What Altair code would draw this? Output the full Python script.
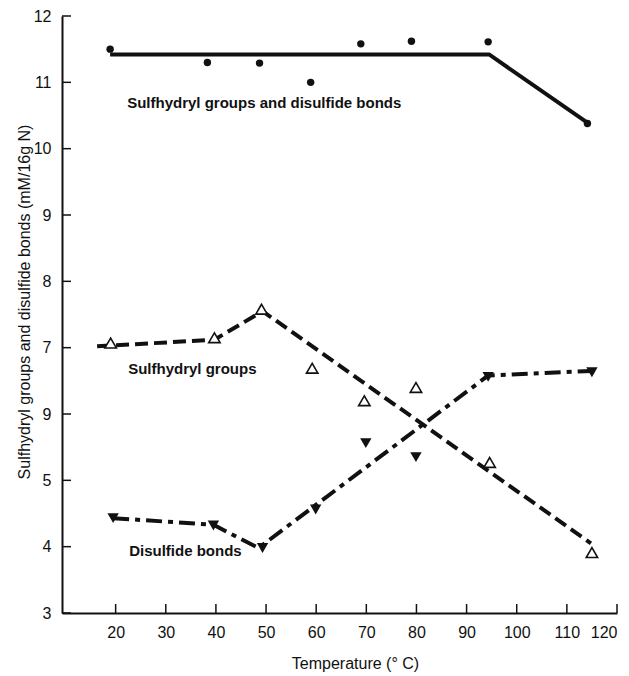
import altair as alt
import pandas as pd

# ---- data ----
dot_temp = [18.9, 38.3, 48.7, 58.9, 68.9, 79.0, 94.3, 114.1]
dot_total = [11.50, 11.30, 11.29, 11.00, 11.58, 11.62, 11.61, 10.38]

sh_temp = [19.0, 39.7, 49.1, 59.2, 69.6, 79.9, 94.6, 115.0]
sh_groups = [7.07, 7.15, 7.58, 6.69, 6.20, 6.40, 5.27, 3.91]

ss_temp = [19.5, 39.5, 49.3, 59.9, 69.9, 79.9, 94.3, 115.0]
ss_bonds = [4.43, 4.32, 3.98, 4.56, 5.56, 5.35, 6.56, 6.63]

fit_total_temp = [18.9, 94.5, 114.3]
fit_total_val = [11.42, 11.42, 10.38]
fit_sh_temp = [16.3, 39.7, 49.3, 114.8]
fit_sh_val = [7.02, 7.12, 7.55, 4.05]
fit_ss_temp = [19.5, 39.5, 48.5, 94.3, 114.8]
fit_ss_val = [4.43, 4.33, 3.98, 6.58, 6.65]

label_text = ["Sulfhydryl groups and disulfide bonds", "Sulfhydryl groups", "Disulfide bonds"]
label_temp = [22.3, 22.5, 22.7]
label_val = [10.61, 6.60, 3.86]

x_ticks = [20, 30, 40, 50, 60, 70, 80, 90, 100, 110, 120]
y_ticks = [3, 4, 5, 6, 7, 8, 9, 10, 11, 12]

W, H = 555, 597
INK = "#111111"
FONT = "Liberation Sans"

xs = alt.Scale(domain=[9.3, 120], nice=False, zero=False)
ys = alt.Scale(domain=[3, 12], nice=False, zero=False)

x_axis = alt.Axis(values=x_ticks, labelFontSize=16, labelPadding=11, ticks=False, tickSize=0,
                  grid=False, domainWidth=2, domainColor=INK, labelColor=INK, labelFont=FONT,
                  title="Temperature (° C)", titleFont=FONT, titleFontSize=16, titleFontWeight="normal",
                  titleColor=INK, titleX=293, titleY=50, titleBaseline="middle", titleAlign="center")
y_axis = alt.Axis(values=y_ticks, labelFontSize=16, labelPadding=11, ticks=False, tickSize=0,
                  grid=False, domainWidth=2, domainColor=INK, labelColor=INK, labelFont=FONT,
                  labelExpr="datum.value == 6 ? '9' : datum.label",
                  title="Sulfhydryl groups and disulfide bonds (mM/16g N)", titleFont=FONT,
                  titleFontSize=16, titleFontWeight="normal", titleColor=INK, titleAngle=270,
                  titleX=-38, titleY=285.5, titleBaseline="middle", titleAlign="center")


def X(field="t"):
    return alt.X(f"{field}:Q", scale=xs, axis=x_axis)


def Y(field="v"):
    return alt.Y(f"{field}:Q", scale=ys, axis=y_axis)


xt = alt.Chart(pd.DataFrame({"t": x_ticks})).mark_rule(color=INK, strokeWidth=1.5).encode(
    x=X(), y=alt.value(H), y2=alt.value(H - 9))
yt = alt.Chart(pd.DataFrame({"v": y_ticks})).mark_rule(color=INK, strokeWidth=1.5).encode(
    y=Y(), x=alt.value(0), x2=alt.value(9))


def line(tx, vals, dash, width):
    df = pd.DataFrame({"t": tx, "v": vals})
    kw = dict(color=INK, strokeWidth=width, strokeCap="butt")
    if dash:
        kw["strokeDash"] = dash
    return alt.Chart(df).mark_line(**kw).encode(x=X(), y=Y())


l_total = line(fit_total_temp, fit_total_val, None, 4)
l_sh = line(fit_sh_temp, fit_sh_val, [13, 6], 4)
l_ss = line(fit_ss_temp, fit_ss_val, [16, 6, 5, 6], 4)

p_total = alt.Chart(pd.DataFrame({"t": dot_temp, "v": dot_total})).mark_point(
    shape="circle", filled=True, color=INK, size=55, opacity=1).encode(x=X(), y=Y())
p_sh = alt.Chart(pd.DataFrame({"t": sh_temp, "v": sh_groups})).mark_point(
    shape="triangle-up", filled=True, fill="white", stroke=INK, strokeWidth=1.6, size=130,
    opacity=1).encode(x=X(), y=Y())
p_ss = alt.Chart(pd.DataFrame({"t": ss_temp, "v": ss_bonds})).mark_point(
    shape="triangle-down", filled=True, color=INK, size=130, opacity=1).encode(x=X(), y=Y())

labels = alt.Chart(pd.DataFrame({"t": label_temp, "v": label_val, "s": label_text})).mark_text(
    align="left", baseline="alphabetic", font=FONT, fontSize=15, fontWeight="bold", color=INK).encode(
    x=X(), y=Y(), text="s:N")

chart = alt.layer(xt, yt, l_total, l_sh, l_ss, p_total, p_sh, p_ss, labels).properties(
    width=W, height=H,
    autosize=alt.AutoSizeParams(type="none"),
    padding={"left": 54, "top": 8, "right": 4, "bottom": 60},
    background="white",
).configure_view(stroke=None)

chart.save("out.html", embed_options={"renderer": "svg", "actions": False})
